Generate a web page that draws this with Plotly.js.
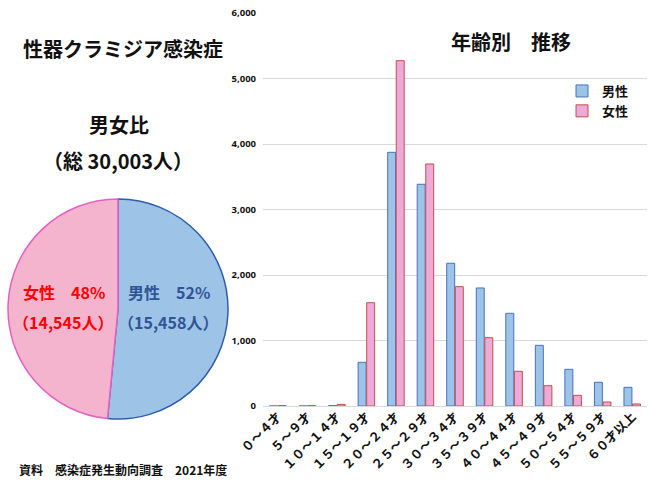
<!DOCTYPE html>
<html>
<head>
<meta charset="utf-8">
<script src="https://cdn.plot.ly/plotly-3.0.1.min.js"></script>
<style>
html,body{margin:0;padding:0;background:#fff;}
#chart{width:650px;height:487px;}
</style>
</head>
<body>
<div id="chart"></div>
<script>
// ---- data ----
const categories = ["０～４才","５～９才","１０～１４才","１５～１９才","２０～２４才","２５～２９才","３０～３４才","３５～３９才","４０～４４才","４５～４９才","５０～５４才","５５～５９才","６０才以上"];
const maleValues   = [0, 0, 5, 667, 3873, 3385, 2179, 1802, 1415, 926, 560, 362, 285];
const femaleValues = [5, 5, 25, 1577, 5272, 3695, 1822, 1043, 530, 310, 163, 61, 31];
const seriesNames = ["男性", "女性"];
const pieLabels = ["男性", "女性"];
const pieValues = [15458, 14545];
const yTickVals = [0, 1000, 2000, 3000, 4000, 5000, 6000];
const yTickText = ["0", "1,000", "2,000", "3,000", "4,000", "5,000", "6,000"];

const W = 650, H = 487;
const px = x => x / W;
const py = y => 1 - y / H;
const JP = '"Noto Sans CJK JP", "Noto Sans", sans-serif';

const traces = [
  {
    type: 'bar', name: seriesNames[0], x: categories, y: maleValues,
    marker: {color: '#9DC3E6', line: {color: '#4472C4', width: 1}},
    xaxis: 'x', yaxis: 'y', hoverinfo: 'x+y'
  },
  {
    type: 'bar', name: seriesNames[1], x: categories, y: femaleValues,
    marker: {color: '#EEAAD6', line: {color: '#C0504D', width: 1}},
    xaxis: 'x', yaxis: 'y', hoverinfo: 'x+y'
  },
  {
    type: 'pie', labels: pieLabels, values: pieValues, sort: false,
    direction: 'clockwise', rotation: 0, textinfo: 'none', showlegend: false,
    hoverinfo: 'label+value+percent',
    marker: {colors: ['#9DC3E6', '#F4B4CE'], line: {color: ['#2F5DAA', '#E660C4'], width: 1.5}},
    domain: {x: [px(8), px(228)], y: [py(419), py(199)]}
  }
];

const annotations = [
  {text: '<b>性器クラミジア感染症</b>', x: px(123), y: py(48), font: {size: 20, color: '#111'}},
  {text: '<b>男女比</b>', x: px(119), y: py(125), font: {size: 20, color: '#111'}},
  {text: '<b>（総 30,003人）</b>', x: px(118), y: py(160), font: {size: 20, color: '#111'}},
  {text: '<b>女性　48%</b>', x: px(64), y: py(292), font: {size: 16, color: '#FF0000'}},
  {text: '<b>（14,545人）</b>', x: px(63), y: py(322), font: {size: 16, color: '#FF0000'}},
  {text: '<b>男性　52%</b>', x: px(169), y: py(292), font: {size: 16, color: '#2F5597'}},
  {text: '<b>（15,458人）</b>', x: px(168), y: py(322), font: {size: 16, color: '#2F5597'}},
  {text: '<b>資料　感染症発生動向調査　2021年度</b>', x: px(123), y: py(469), font: {size: 12, color: '#111'}}
].map(a => Object.assign({xref: 'paper', yref: 'paper', showarrow: false, xanchor: 'center', yanchor: 'middle', font: {}}, a, {font: Object.assign({family: JP}, a.font)}));

const layout = {
  width: W, height: H,
  margin: {l: 0, r: 0, t: 0, b: 0},
  paper_bgcolor: '#fff', plot_bgcolor: '#fff',
  font: {family: JP, color: '#111'},
  title: {text: '<b>年齢別　推移</b>', x: px(511), y: py(43), xanchor: 'center', yanchor: 'middle', xref: 'paper', yref: 'paper', font: {size: 20, family: JP, color: '#111'}},
  barmode: 'group', bargap: 0.42, bargroupgap: 0.07,
  xaxis: {
    domain: [px(263), px(647)], anchor: 'y',
    tickangle: -45, tickfont: {size: 12.5, family: JP, color: '#111', weight: 'bold'},
    showgrid: false, showline: false, ticks: '', fixedrange: true
  },
  yaxis: {
    domain: [py(406), py(13)], anchor: 'x', range: [0, 6000],
    tickvals: yTickVals, ticktext: yTickText,
    tickfont: {size: 9.5, family: '"Open Sans", sans-serif', color: '#111', weight: 'bold'},
    gridcolor: '#D9D9D9', gridwidth: 1, zeroline: true, zerolinecolor: '#D9D9D9', zerolinewidth: 1,
    showline: false, ticks: '', ticklabelstandoff: 6
  },
  legend: {
    x: px(562), y: py(76), xanchor: 'left', yanchor: 'top',
    font: {size: 13, family: JP, color: '#111', weight: 'bold'},
    bgcolor: 'rgba(0,0,0,0)', tracegroupgap: 2, itemwidth: 30
  },
  annotations: annotations,
  showlegend: true
};

Plotly.newPlot('chart', traces, layout, {displayModeBar: false, staticPlot: false});
</script>
</body>
</html>
